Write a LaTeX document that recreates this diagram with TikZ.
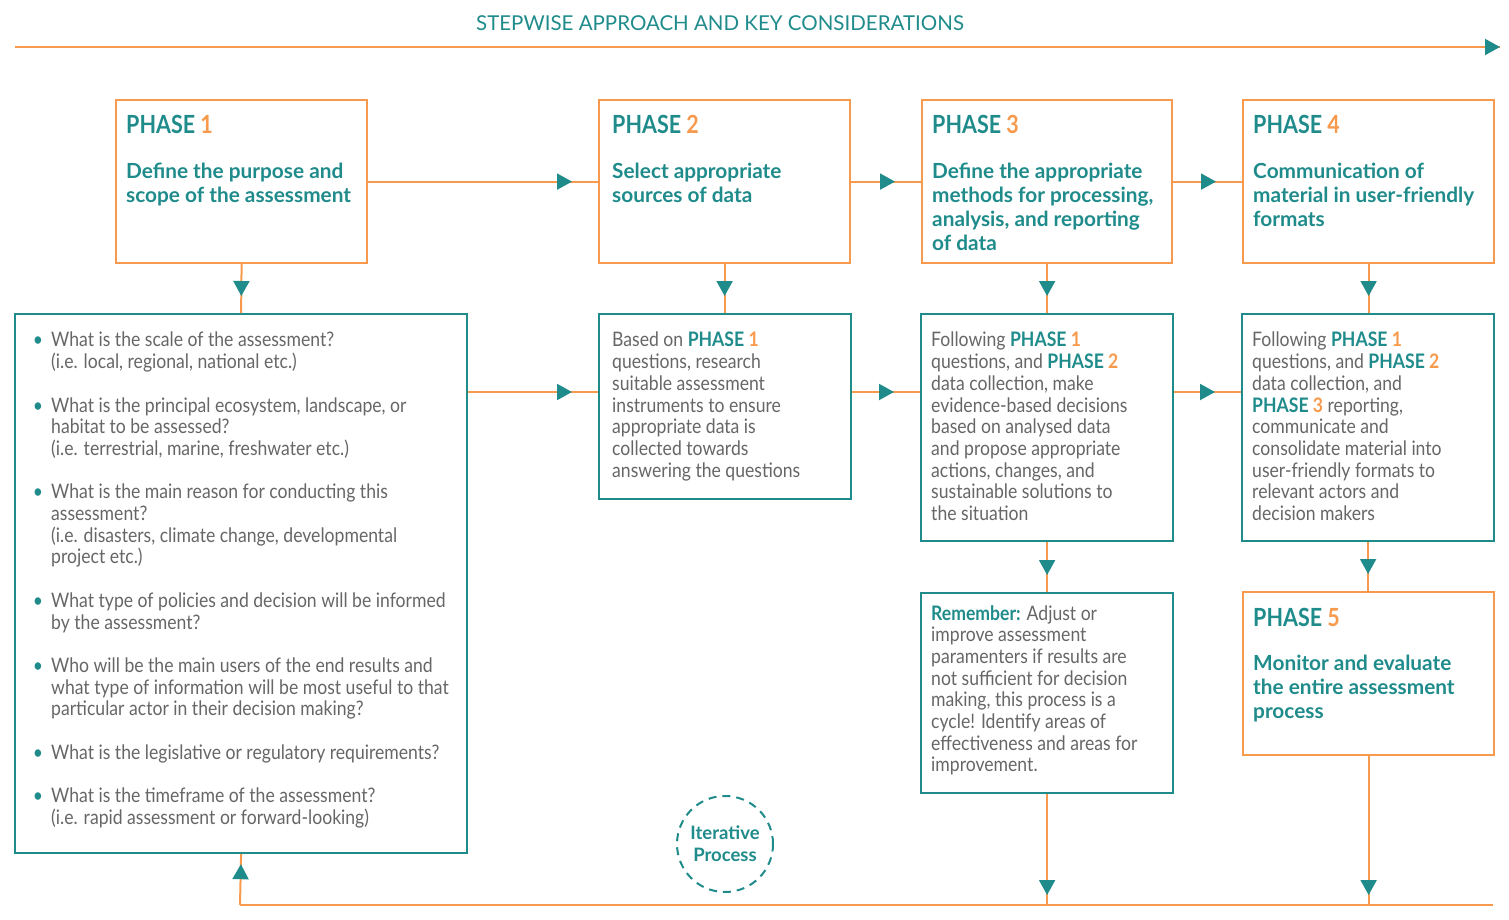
\documentclass[tikz,border=0pt]{standalone}
\usepackage{fontspec}
\setmainfont{Lato}[FakeStretch=0.88]
\newfontfamily\latoH{Lato}[FakeStretch=0.86]
\newfontfamily\latoW{Lato}
\usetikzlibrary{arrows.meta,decorations.markings,calc}
\definecolor{tl}{RGB}{31,139,139}
\definecolor{og}{RGB}{247,154,77}
\definecolor{gy}{RGB}{102,102,102}
\newcommand\bodyf{\fontsize{20}{21.7}\selectfont}
\newcommand\headf{\latoH\fontsize{25}{28}\selectfont\bfseries}
\newcommand\ttlf{\latoW\fontsize{20.8}{24}\selectfont\bfseries}
\newcommand\PH[1]{\textbf{\textcolor{tl}{PHASE} \textcolor{og}{#1}}}
\newcommand\qbul{\llap{\textcolor{tl}{\textbullet}\hspace{8pt}}}
\tikzset{
  pbox/.style={draw=og, line width=2.2pt, rectangle, inner sep=0, anchor=north west},
  dbox/.style={draw=tl, line width=2.2pt, rectangle, inner sep=0, anchor=north west},
  body/.style={anchor=north west, inner sep=0, align=left, font=\bodyf, text=gy},
  head/.style={anchor=north west, inner sep=0, align=left, font=\headf},
  ttl/.style={anchor=north west, inner sep=0, align=left, font=\ttlf, text=tl},
  conn/.style={draw=og, line width=2pt},
  tipat/.style={postaction={decorate}, decoration={markings,
      mark=at position -#1pt with {\arrow{Triangle[length=15pt,width=16pt,color=tl]}}}},
  endtip/.style={postaction={decorate}, decoration={markings,
      mark=at position 1 with {\arrow{Triangle[length=15pt,width=16pt,color=tl]}}}},
}
\begin{document}
\begin{tikzpicture}[x=1pt,y=-1pt]
\useasboundingbox (0,0) rectangle (1509,920);
% title
\node[inner sep=0, text=tl, font=\latoW\fontsize{20.5}{24}\selectfont] (title) at (720,23) {STEPWISE APPROACH AND KEY CONSIDERATIONS};
\coordinate (tl0) at (15,47);
\coordinate (tr0) at (1500,47);
\draw[conn, endtip] (tl0) -- (tr0);
% phase boxes
\node[pbox, minimum width=251, minimum height=163] (p1) at (115,99) {};
\node[pbox, minimum width=251, minimum height=163] (p2) at (598,99) {};
\node[pbox, minimum width=250, minimum height=163] (p3) at (921,99) {};
\node[pbox, minimum width=251, minimum height=163] (p4) at (1242,99) {};
\node[pbox, minimum width=251, minimum height=163] (p5) at (1242,591) {};
% detail boxes
\node[dbox, minimum width=452, minimum height=539] (q) at (14,313) {};
\node[dbox, minimum width=252, minimum height=185] (d2) at (598,313) {};
\node[dbox, minimum width=252, minimum height=227] (d3) at (920,313) {};
\node[dbox, minimum width=252, minimum height=227] (d4) at (1241,313) {};
\node[dbox, minimum width=252, minimum height=200] (rem) at (920,592) {};
% phase texts
\node[head] (h1) at (126,115) {\PH{1}};
\node[ttl] (t1) at (126,163) {Define the purpose and\\scope of the assessment};
\node[head] (h2) at (612,115) {\PH{2}};
\node[ttl] (t2) at (612,163) {Select appropriate\\sources of data};
\node[head] (h3) at (932,115) {\PH{3}};
\node[ttl] (t3) at (932,163) {Define the appropriate\\methods for processing,\\analysis, and reporting\\of data};
\node[head] (h4) at (1253,115) {\PH{4}};
\node[ttl] (t4) at (1253,163) {Communication of\\material in user-friendly\\formats};
\node[head] (h5) at (1253,608) {\PH{5}};
\node[ttl] (t5) at (1253,655) {Monitor and evaluate\\the entire assessment\\process};
% detail texts
\node[body] (qt) at (51,332) {\qbul What is the scale of the assessment?\\(i.e. local, regional, national etc.)\\[21.7pt]
\qbul What is the principal ecosystem, landscape, or\\habitat to be assessed?\\(i.e. terrestrial, marine, freshwater etc.)\\[21.7pt]
\qbul What is the main reason for conducting this\\assessment?\\(i.e. disasters, climate change, developmental\\project etc.)\\[21.7pt]
\qbul What type of policies and decision will be informed\\by the assessment?\\[21.7pt]
\qbul Who will be the main users of the end results and\\what type of information will be most useful to that\\particular actor in their decision making?\\[21.7pt]
\qbul What is the legislative or regulatory requirements?\\[21.7pt]
\qbul What is the timeframe of the assessment?\\(i.e. rapid assessment or forward-looking)};
\node[body] (d2t) at (612,332) {Based on \PH{1}\\questions, research\\suitable assessment\\instruments to ensure\\appropriate data is\\collected towards\\answering the questions};
\node[body] (d3t) at (931,332) {Following \PH{1}\\questions, and \PH{2}\\data collection, make\\evidence-based decisions\\based on analysed data\\and propose appropriate\\actions, changes, and\\sustainable solutions to\\the situation};
\node[body] (d4t) at (1252,332) {Following \PH{1}\\questions, and \PH{2}\\data collection, and\\\PH{3} reporting,\\communicate and\\consolidate material into\\user-friendly formats to\\relevant actors and\\decision makers};
\node[body] (remt) at (931,605) {\textbf{\textcolor{tl}{Remember:}} Adjust or\\improve assessment\\paramenters if results are\\not sufficient for decision\\making, this process is a\\cycle! Identify areas of\\effectiveness and areas for\\improvement.};
% iterative
\node[circle, draw=tl, line width=2pt, dash pattern=on 8pt off 6pt, minimum size=96pt, inner sep=0,
  align=center, text=tl, font=\latoW\fontsize{18.5}{22}\selectfont\bfseries] (it) at (725,844) {Iterative\\Process};
% connectors
\draw[conn, tipat=26] (p1.east) -- (p2.west);
\draw[conn, tipat=26] (p2.east) -- (p3.west);
\draw[conn, tipat=26] (p3.east) -- (p4.west);
\coordinate (hy) at (0,392);
\draw[conn, tipat=26] (q.east |- hy) -- (d2.west |- hy);
\draw[conn, tipat=26] (d2.east |- hy) -- (d3.west |- hy);
\draw[conn, tipat=26] (d3.east |- hy) -- (d4.west |- hy);
\draw[conn, tipat=17] (p1.south) -- (q.north);
\draw[conn, tipat=17] (p2.south) -- (p2.south |- d2.north);
\draw[conn, tipat=17] (p3.south) -- (p3.south |- d3.north);
\draw[conn, tipat=17] (p4.south) -- (p4.south |- d4.north);
\draw[conn, tipat=17] (d3.south) -- (rem.north);
\draw[conn, tipat=17] (d4.south) -- (d4.south |- p5.north);
\coordinate (bl) at (240,905);
\coordinate (br) at (1493,905);
\draw[conn] (bl) -- (br);
\draw[conn, tipat=10] (rem.south) -- (rem.south |- bl);
\draw[conn, tipat=10] (p5.south) -- (p5.south |- bl);
\draw[conn, tipat=10] (bl) -- (q.south);
\end{tikzpicture}
\end{document}
